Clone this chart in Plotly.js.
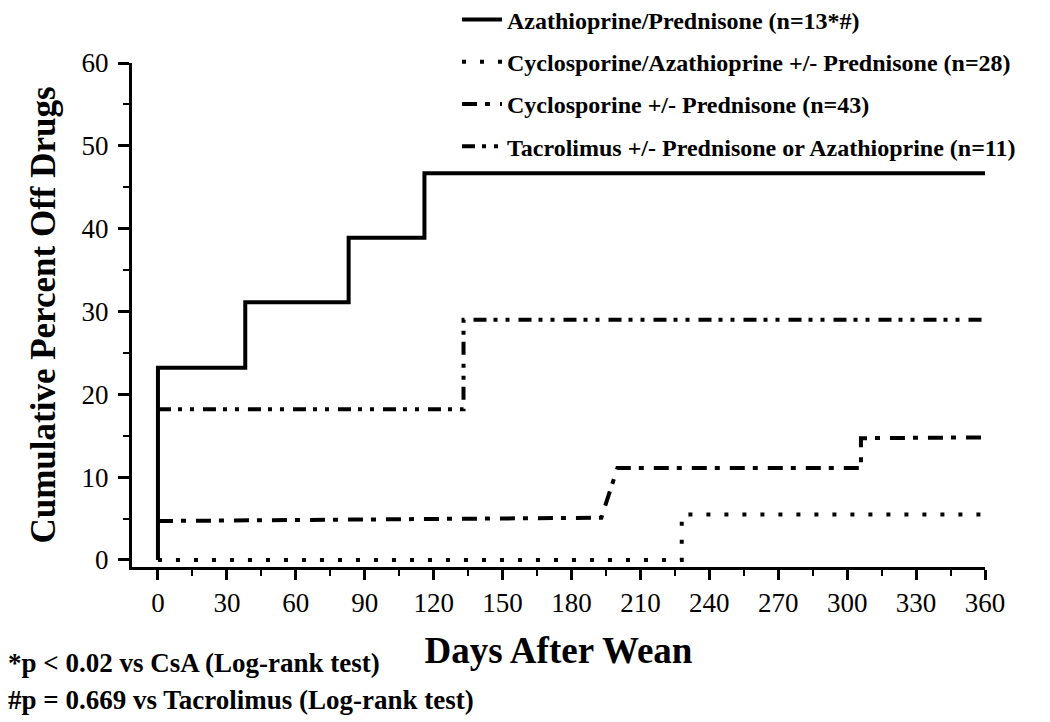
<!DOCTYPE html>
<html>
<head>
<meta charset="utf-8">
<script src="https://cdn.plot.ly/plotly-3.0.1.min.js"></script>
<style>html,body{margin:0;padding:0;background:#fff;}#chart{width:1050px;height:722px;}</style>
</head>
<body>
<div id="chart"></div>
<script>
// Series names
const seriesNames = [
  "Azathioprine/Prednisone (n=13*#)",
  "Cyclosporine/Azathioprine +/- Prednisone (n=28)",
  "Cyclosporine +/- Prednisone (n=43)",
  "Tacrolimus +/- Prednisone or Azathioprine (n=11)"
];
// Step times (days after wean) and cumulative percent off drugs
const azaDays = [0, 0, 38, 83, 116, 360];
const azaPct  = [0, 23.2, 31.1, 38.9, 46.7, 46.9];

const csaAzaDays = [0, 228, 360];
const csaAzaPct  = [0, 5.5, 5.6];

const csaDays = [0, 193, 200, 306, 360];
const csaPct  = [4.7, 5.1, 11.1, 14.7, 14.8];

const tacDays = [0, 133, 360];
const tacPct  = [18.2, 29.0, 29.2];

const xTicks = [0, 30, 60, 90, 120, 150, 180, 210, 240, 270, 300, 330, 360];
const xMinor = [15, 45, 75, 105, 135, 165, 195, 225, 255, 285, 315, 345];
const yTicks = [0, 10, 20, 30, 40, 50, 60];
const yMinor = [5, 15, 25, 35, 45, 55];

const footnotes = [
  "*p < 0.02 vs CsA (Log-rank test)",
  "#p = 0.669 vs Tacrolimus (Log-rank test)"
];

const serif = "Liberation Serif, Times New Roman, serif";

const traces = [
  {x: azaDays, y: azaPct, name: seriesNames[0], legendgroup: "a",
   line: {color: "#000", width: 4, shape: "hv"}},
  {x: csaAzaDays, y: csaAzaPct, name: seriesNames[1], legendgroup: "b",
   line: {color: "#000", width: 4, shape: "hv", dash: "4px,14px"}},
  {x: csaDays, y: csaPct, name: seriesNames[2], legendgroup: "c",
   line: {color: "#000", width: 4, shape: "linear", dash: "15px,8px,5px,10px"}},
  {x: tacDays, y: tacPct, name: seriesNames[3], legendgroup: "d",
   line: {color: "#000", width: 4, shape: "hv", dash: "13px,7px,4px,8px,4px,9px"}}
].map(t => Object.assign({type: "scatter", mode: "lines", hoverinfo: "skip"}, t));

// Cyclosporine: flat, slanted rise (as drawn in the source), flat, vertical step, flat
(function(){
  const t = traces[2];
  t.x = [csaDays[0], csaDays[1], csaDays[2], csaDays[3], csaDays[3], csaDays[4]];
  t.y = [csaPct[0], csaPct[1], csaPct[2], csaPct[2], csaPct[3], csaPct[4]];
})();

const annotations = footnotes.map((txt, i) => ({
  text: txt, xref: "paper", yref: "paper", x: -126/853, y: (567-663-i*37)/504,
  xanchor: "left", yanchor: "middle", showarrow: false,
  font: {family: serif, size: 27, color: "#000", weight: "bold"}
}));

const layout = {
  width: 1050, height: 722,
  margin: {l: 132, r: 65, t: 63, b: 155, autoexpand: false},
  paper_bgcolor: "#fff", plot_bgcolor: "#fff",
  showlegend: true,
  legend: {x: 0.381, y: 1.13, xanchor: "left", yanchor: "top",
    font: {family: serif, size: 24, color: "#000", weight: "bold"},
    tracegroupgap: 8, bgcolor: "rgba(0,0,0,0)", itemwidth: 40},
  xaxis: {
    range: [-11.3, 360], tickvals: xTicks, ticktext: xTicks.map(String),
    showgrid: false, zeroline: false, showline: true, linecolor: "#000", linewidth: 3,
    ticks: "outside", ticklen: 10, tickwidth: 3, tickcolor: "#000",
    minor: {tickvals: xMinor, ticks: "outside", ticklen: 6, tickwidth: 2, tickcolor: "#000"},
    tickfont: {family: serif, size: 27, color: "#000"},
    title: {text: "Days After Wean", standoff: 20, font: {family: serif, size: 37, color: "#000", weight: "bold"}}
  },
  yaxis: {
    range: [-0.85, 60], tickvals: yTicks, ticktext: yTicks.map(String),
    showgrid: false, zeroline: false, showline: true, linecolor: "#000", linewidth: 3,
    ticks: "outside", ticklen: 11, tickwidth: 3, tickcolor: "#000", ticklabelstandoff: 4,
    minor: {tickvals: yMinor, ticks: "outside", ticklen: 6, tickwidth: 2, tickcolor: "#000"},
    tickfont: {family: serif, size: 27, color: "#000"},
    title: {text: "Cumulative Percent Off Drugs", standoff: 16, font: {family: serif, size: 35, color: "#000", weight: "bold"}}
  },
  annotations: annotations
};

Plotly.newPlot("chart", traces, layout, {staticPlot: true, displayModeBar: false});
</script>
</body>
</html>
